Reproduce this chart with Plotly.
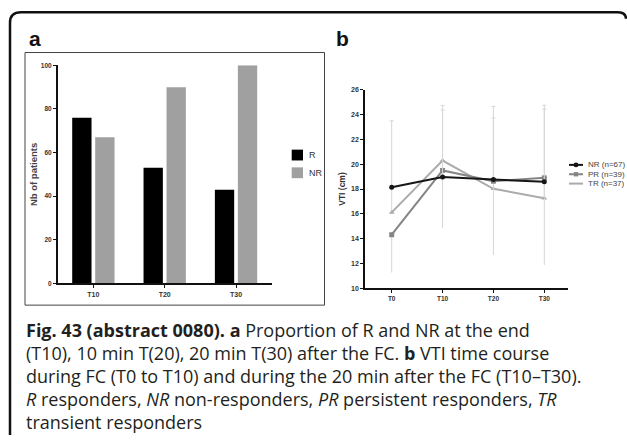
import plotly.graph_objects as go

W, H = 627, 440

# ---- data: panel a ----
bar_categories = ["T10", "T20", "T30"]
r_counts = [76, 53, 43]
nr_counts = [67, 90, 100]
bar_names = ["R", "NR"]

# ---- data: panel b ----
time_points = ["T0", "T10", "T20", "T30"]
vti_nr = [18.15, 18.97, 18.76, 18.58]
vti_pr = [14.31, 19.5, 18.63, 18.9]
vti_tr = [16.11, 20.3, 18.02, 17.26]
nr_err_up = [0, 5.41, 4.98, 5.88]
tr_err_up = [7.4, 4.45, 6.65, 7.5]
pr_err_down = [3.05, 4.66, 5.96, 7.03]
line_names = ["NR (n=67)", "PR (n=39)", "TR (n=37)"]
y_ticks_a = [0, 20, 40, 60, 80, 100]
y_ticks_b = [10, 12, 14, 16, 18, 20, 22, 24, 26]

caption_lines = [
    "<b>Fig. 43 (abstract 0080).</b> <b>a</b> Proportion of R and NR at the end",
    "(T10), 10 min T(20), 20 min T(30) after the FC. <b>b</b> VTI time course",
    "during FC (T0 to T10) and during the 20 min after the FC (T10–T30).",
    "<i>R</i> responders, <i>NR</i> non-responders, <i>PR</i> persistent responders, <i>TR</i>",
    "transient responders",
]


def px(x):
    return x / W


def py(y):
    return 1 - y / H


BAR_GRAY = "#a0a0a0"
AX_FONT = "Liberation Sans"
c_nr, c_pr, c_tr = "#161616", "#858585", "#ababab"
ERR = "#d6d6d6"

fig = go.Figure()

fig.add_trace(go.Bar(x=bar_categories, y=r_counts, name=bar_names[0],
                     marker=dict(color="#000000", line=dict(width=0)),
                     xaxis="x", yaxis="y", showlegend=False))
fig.add_trace(go.Bar(x=bar_categories, y=nr_counts, name=bar_names[1],
                     marker=dict(color=BAR_GRAY, line=dict(width=0)),
                     xaxis="x", yaxis="y", showlegend=False))

fig.add_trace(go.Scatter(x=time_points, y=vti_tr, name=line_names[2], mode="lines+markers",
                         line=dict(color=c_tr, width=2),
                         marker=dict(symbol="triangle-up", size=5, color=c_tr),
                         error_y=dict(type="data", symmetric=False, array=tr_err_up,
                                      arrayminus=[0, 0, 0, 0], color=ERR, thickness=1, width=2),
                         xaxis="x2", yaxis="y2", showlegend=False))
fig.add_trace(go.Scatter(x=time_points, y=vti_pr, name=line_names[1], mode="lines+markers",
                         line=dict(color=c_pr, width=2),
                         marker=dict(symbol="square", size=5, color=c_pr),
                         error_y=dict(type="data", symmetric=False, array=[0, 0, 0, 0],
                                      arrayminus=pr_err_down, color=ERR, thickness=1, width=0),
                         xaxis="x2", yaxis="y2", showlegend=False))
fig.add_trace(go.Scatter(x=time_points, y=vti_nr, name=line_names[0], mode="lines+markers",
                         line=dict(color=c_nr, width=2),
                         marker=dict(symbol="circle", size=5, color=c_nr),
                         error_y=dict(type="data", symmetric=False, array=nr_err_up,
                                      arrayminus=[0, 0, 0, 0], color=ERR, thickness=1, width=2),
                         xaxis="x2", yaxis="y2", showlegend=False))

axis_common = dict(showline=True, linecolor="#111111", linewidth=1.5, ticks="outside",
                   ticklen=3, tickwidth=1.2, tickcolor="#111111", showgrid=False,
                   zeroline=False)

fig.update_layout(
    width=W, height=H, margin=dict(l=0, r=0, t=0, b=0),
    paper_bgcolor="white", plot_bgcolor="white",
    barmode="group", bargap=0.355, bargroupgap=0.16,
    showlegend=False,
    xaxis=dict(domain=[px(57.7), px(271.7)], type="category", range=[-0.5, 2.5],
               tickfont=dict(family=AX_FONT, size=7, color="#333333", weight="bold"),
               anchor="y", **axis_common),
    yaxis=dict(domain=[py(284), py(62.3)], range=[0, 100], tickvals=y_ticks_a,
               tickfont=dict(family=AX_FONT, size=6.5, color="#333333", weight="bold"),
               title=dict(text="Nb of patients", standoff=1,
                          font=dict(family=AX_FONT, size=9.5, color="#444444", weight="bold")),
               anchor="x", **axis_common),
    xaxis2=dict(domain=[px(365), px(568)], type="category", range=[-0.525, 3.466],
                tickfont=dict(family=AX_FONT, size=6.5, color="#333333", weight="bold"),
                anchor="y2", **axis_common),
    yaxis2=dict(domain=[py(288.7), py(87.3)], range=[10, 26], tickvals=y_ticks_b,
                tickfont=dict(family=AX_FONT, size=7, color="#333333", weight="bold"),
                title=dict(text="VTI (cm)", standoff=4,
                           font=dict(family=AX_FONT, size=8.5, color="#333333", weight="bold")),
                anchor="x2", **axis_common),
)

shapes = []
# outer rounded frame
frame_path = (f"M {px(10)} {py(438)} L {px(10)} {py(19)} "
              f"Q {px(10)} {py(8.5)} {px(21)} {py(8.5)} "
              f"L {px(617)} {py(8.5)} Q {px(626)} {py(8.5)} {px(626)} {py(15)}")
shapes.append(dict(type="path", path=frame_path, xref="paper", yref="paper",
                   line=dict(color="#111111", width=2.5)))
# panel a box
shapes.append(dict(type="rect", xref="paper", yref="paper", x0=px(25), x1=px(324.5),
                   y0=py(306), y1=py(49.3), line=dict(color="#444444", width=1)))

# legend a (manual)
leg_a_colors = ["#000000", BAR_GRAY]
leg_a_rows = [153.5, 171.5]
annotations = []
for name, col, yy in zip(bar_names, leg_a_colors, leg_a_rows):
    shapes.append(dict(type="rect", xref="paper", yref="paper", x0=px(291.7), x1=px(303),
                       y0=py(yy + 5.5), y1=py(yy - 5.5), line=dict(width=0), fillcolor=col))
    annotations.append(dict(text=name, x=px(307), y=py(yy), xref="paper", yref="paper",
                            xanchor="left", yanchor="middle", showarrow=False,
                            font=dict(family=AX_FONT, size=9, color="#333333")))

# legend b (manual)
leg_b_colors = [c_nr, c_pr, c_tr]
leg_b_rows = [163.5, 173, 182.5]
for name, col, yy, sym in zip(line_names, leg_b_colors, leg_b_rows, ["circle", "square", "tri"]):
    shapes.append(dict(type="line", xref="paper", yref="paper", x0=px(569), x1=px(583),
                       y0=py(yy), y1=py(yy), line=dict(color=col, width=2)))
    if sym == "circle":
        shapes.append(dict(type="circle", xref="paper", yref="paper", x0=px(573.5), x1=px(578.5),
                           y0=py(yy + 2.5), y1=py(yy - 2.5), line=dict(width=0), fillcolor=col))
    elif sym == "square":
        shapes.append(dict(type="rect", xref="paper", yref="paper", x0=px(573.8), x1=px(578.2),
                           y0=py(yy + 2.2), y1=py(yy - 2.2), line=dict(width=0), fillcolor=col))
    annotations.append(dict(text=name, x=px(585.5), y=py(yy), xref="paper", yref="paper",
                            xanchor="left", yanchor="middle", showarrow=False,
                            font=dict(family=AX_FONT, size=8, color="#444444")))

# panel labels
annotations.append(dict(text="<b>a</b>", x=px(27), y=py(35), xref="paper", yref="paper",
                        xanchor="left", yanchor="middle", showarrow=False,
                        font=dict(family=AX_FONT, size=21, color="#111111")))
annotations.append(dict(text="<b>b</b>", x=px(334), y=py(35), xref="paper", yref="paper",
                        xanchor="left", yanchor="middle", showarrow=False,
                        font=dict(family=AX_FONT, size=21, color="#111111")))

# caption
cap_centers = [331, 354.5, 378, 401, 424.5]
for line, yy in zip(caption_lines, cap_centers):
    annotations.append(dict(text=line, x=px(24), y=py(yy), xref="paper", yref="paper",
                            xanchor="left", yanchor="middle", showarrow=False,
                            font=dict(family="Open Sans", size=18, color="#231f20")))

fig.update_layout(shapes=shapes, annotations=annotations)
fig.write_html("out.html", config={"displayModeBar": False},
               post_script="document.body.style.margin='0';document.body.style.overflow='hidden';")
